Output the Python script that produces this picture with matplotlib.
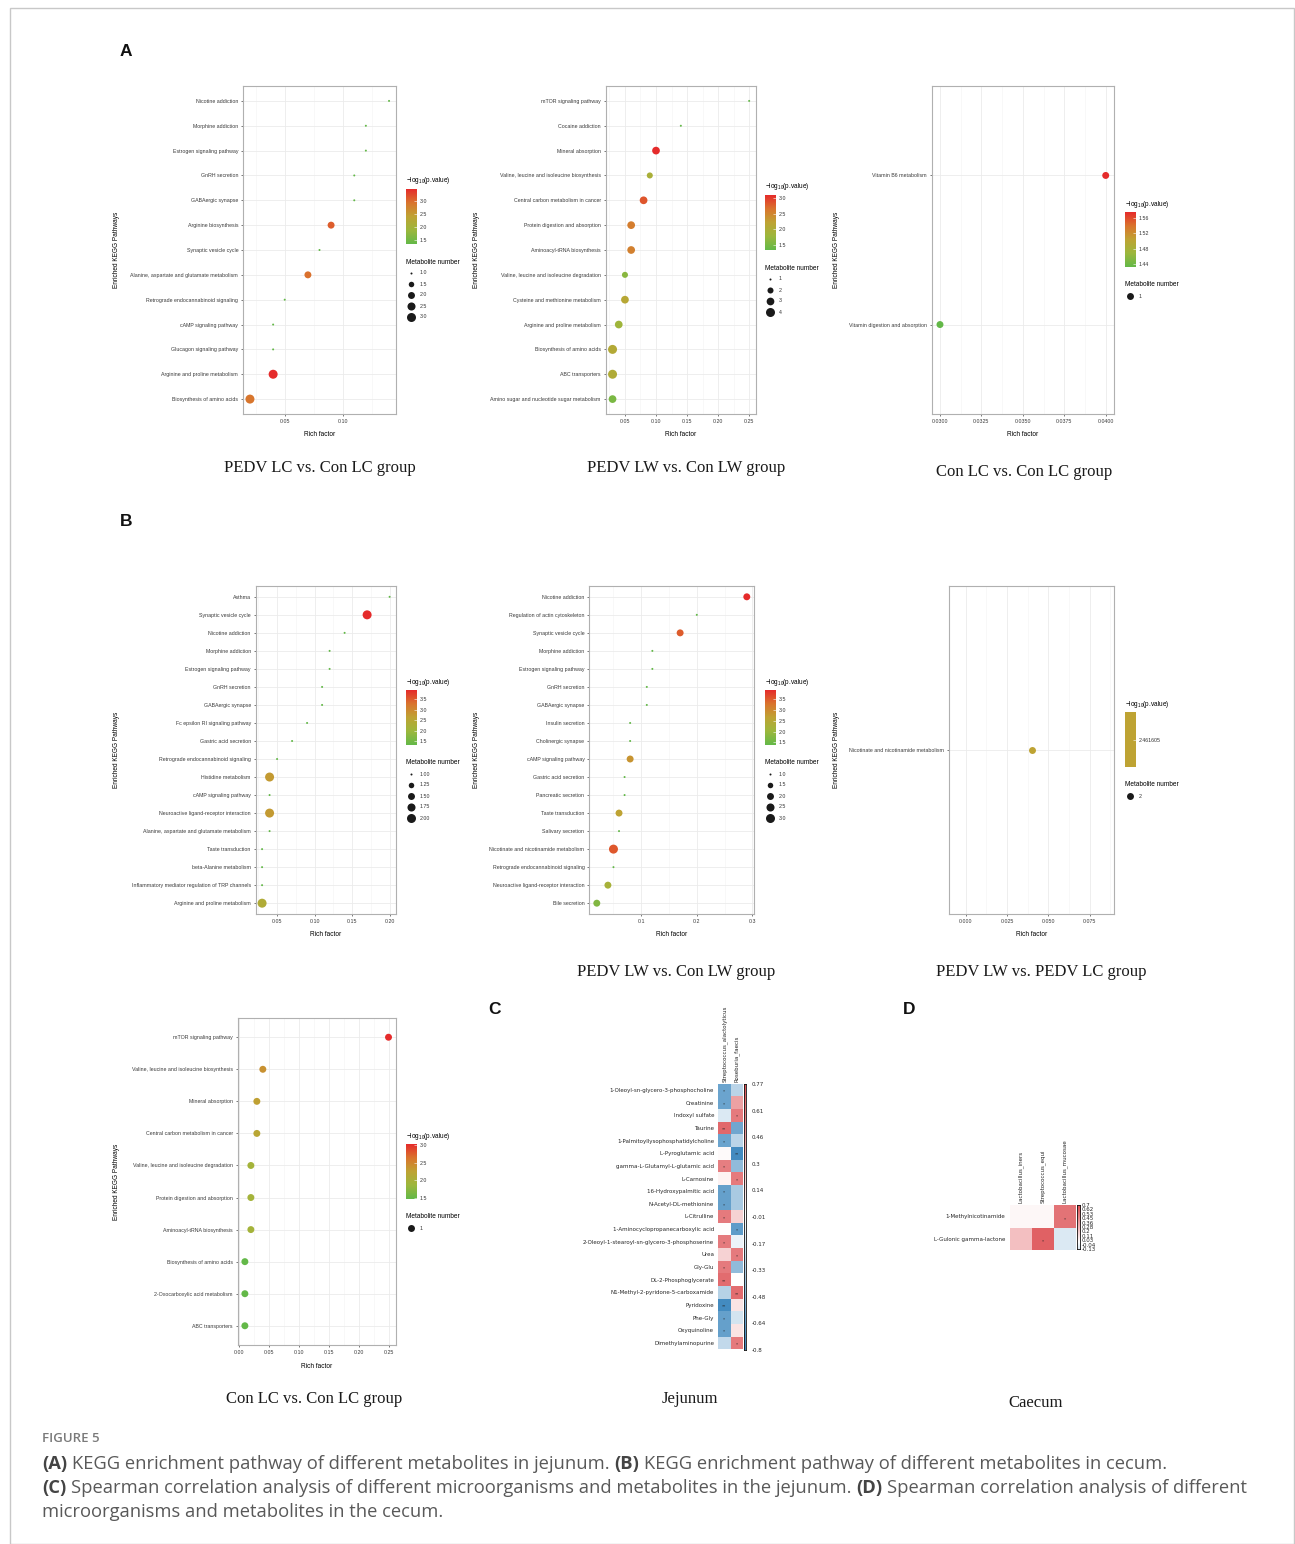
import numpy as np
import matplotlib
matplotlib.use('Agg')
import matplotlib.pyplot as plt
from matplotlib.colors import LinearSegmentedColormap, ListedColormap, Normalize
from matplotlib.cm import ScalarMappable
from matplotlib.ticker import MultipleLocator
from matplotlib.patches import Rectangle

plt.rcParams['font.family'] = ['Liberation Sans', 'DejaVu Sans']
plt.rcParams['mathtext.fontset'] = 'custom'
plt.rcParams['mathtext.rm'] = 'Liberation Sans'
plt.rcParams['mathtext.it'] = 'Liberation Sans:italic'

# ---- A: jejunum KEGG enrichment ----
a1_terms = ['Nicotine addiction', 'Morphine addiction', 'Estrogen signaling pathway', 'GnRH secretion',
            'GABAergic synapse', 'Arginine biosynthesis', 'Synaptic vesicle cycle',
            'Alanine, aspartate and glutamate metabolism', 'Retrograde endocannabinoid signaling',
            'cAMP signaling pathway', 'Glucagon signaling pathway', 'Arginine and proline metabolism',
            'Biosynthesis of amino acids']
a1_rich = [0.14, 0.12, 0.12, 0.11, 0.11, 0.09, 0.08, 0.07, 0.05, 0.04, 0.04, 0.04, 0.02]
a1_logp = [1.33, 1.33, 1.33, 1.33, 1.33, 3.11, 1.33, 2.96, 1.33, 1.33, 1.33, 3.48, 2.92]
a1_count = [1, 1, 1, 1, 1, 2, 1, 2, 1, 1, 1, 3, 3]

a2_terms = ['mTOR signaling pathway', 'Cocaine addiction', 'Mineral absorption',
            'Valine, leucine and isoleucine biosynthesis', 'Central carbon metabolism in cancer',
            'Protein digestion and absorption', 'Aminoacyl-tRNA biosynthesis',
            'Valine, leucine and isoleucine degradation', 'Cysteine and methionine metabolism',
            'Arginine and proline metabolism', 'Biosynthesis of amino acids', 'ABC transporters',
            'Amino sugar and nucleotide sugar metabolism']
a2_rich = [0.25, 0.14, 0.10, 0.09, 0.08, 0.06, 0.06, 0.05, 0.05, 0.04, 0.03, 0.03, 0.03]
a2_logp = [1.34, 1.34, 3.11, 1.96, 2.85, 2.58, 2.55, 1.64, 2.14, 1.82, 2.08, 2.05, 1.52]
a2_count = [1, 1, 3, 2, 3, 3, 3, 2, 3, 3, 4, 4, 3]

a3_terms = ['Vitamin B6 metabolism', 'Vitamin digestion and absorption']
a3_rich = [0.04, 0.03]
a3_logp = [1.575, 1.432]
a3_count = [1, 1]

# ---- B: cecum KEGG enrichment ----
b1_terms = ['Asthma', 'Synaptic vesicle cycle', 'Nicotine addiction', 'Morphine addiction',
            'Estrogen signaling pathway', 'GnRH secretion', 'GABAergic synapse',
            'Fc epsilon RI signaling pathway', 'Gastric acid secretion',
            'Retrograde endocannabinoid signaling', 'Histidine metabolism', 'cAMP signaling pathway',
            'Neuroactive ligand-receptor interaction', 'Alanine, aspartate and glutamate metabolism',
            'Taste transduction', 'beta-Alanine metabolism',
            'Inflammatory mediator regulation of TRP channels', 'Arginine and proline metabolism']
b1_rich = [0.20, 0.17, 0.14, 0.12, 0.12, 0.11, 0.11, 0.09, 0.07, 0.05, 0.04, 0.04, 0.04, 0.04,
           0.03, 0.03, 0.03, 0.03]
b1_logp = [1.33, 3.93, 1.33, 1.33, 1.33, 1.33, 1.33, 1.33, 1.33, 1.33, 2.76, 1.33, 2.76, 1.33,
           1.33, 1.33, 1.33, 2.37]
b1_count = [1, 2, 1, 1, 1, 1, 1, 1, 1, 1, 2, 1, 2, 1, 1, 1, 1, 2]

b2_terms = ['Nicotine addiction', 'Regulation of actin cytoskeleton', 'Synaptic vesicle cycle',
            'Morphine addiction', 'Estrogen signaling pathway', 'GnRH secretion', 'GABAergic synapse',
            'Insulin secretion', 'Cholinergic synapse', 'cAMP signaling pathway',
            'Gastric acid secretion', 'Pancreatic secretion', 'Taste transduction',
            'Salivary secretion', 'Nicotinate and nicotinamide metabolism',
            'Retrograde endocannabinoid signaling', 'Neuroactive ligand-receptor interaction',
            'Bile secretion']
b2_rich = [0.29, 0.20, 0.17, 0.12, 0.12, 0.11, 0.11, 0.08, 0.08, 0.08, 0.07, 0.07, 0.06, 0.06,
           0.05, 0.05, 0.04, 0.02]
b2_logp = [3.92, 1.38, 3.49, 1.38, 1.38, 1.38, 1.38, 1.38, 1.38, 2.85, 1.38, 1.38, 2.65, 1.38,
           3.54, 1.38, 2.22, 1.71]
b2_count = [2, 1, 2, 1, 1, 1, 1, 1, 1, 2, 1, 1, 2, 1, 3, 1, 2, 2]

b3_terms = ['Nicotinate and nicotinamide metabolism']
b3_rich = [0.04]
b3_logp = [2.461605]
b3_count = [2]

b4_terms = ['mTOR signaling pathway', 'Valine, leucine and isoleucine biosynthesis',
            'Mineral absorption', 'Central carbon metabolism in cancer',
            'Valine, leucine and isoleucine degradation', 'Protein digestion and absorption',
            'Aminoacyl-tRNA biosynthesis', 'Biosynthesis of amino acids',
            '2-Oxocarboxylic acid metabolism', 'ABC transporters']
b4_rich = [0.25, 0.04, 0.03, 0.03, 0.02, 0.02, 0.02, 0.01, 0.01, 0.01]
b4_logp = [3.02, 2.40, 2.27, 2.20, 1.95, 1.95, 1.95, 1.48, 1.48, 1.48]
b4_count = [1, 1, 1, 1, 1, 1, 1, 1, 1, 1]

# ---- C: jejunum Spearman ----
c_taxa = ['Streptococcus_alactolyticus', 'Roseburia_faecis']
c_metab = ['1-Oleoyl-sn-glycero-3-phosphocholine', 'Creatinine', 'Indoxyl sulfate', 'Taurine',
           '1-Palmitoyllysophosphatidylcholine', 'L-Pyroglutamic acid',
           'gamma-L-Glutamyl-L-glutamic acid', 'L-Carnosine', '16-Hydroxypalmitic acid',
           'N-Acetyl-DL-methionine', 'L-Citrulline', '1-Aminocyclopropanecarboxylic acid',
           '2-Oleoyl-1-stearoyl-sn-glycero-3-phosphoserine', 'Urea', 'Gly-Glu',
           'DL-2-Phosphoglycerate', 'N1-Methyl-2-pyridone-5-carboxamide', 'Pyridoxine', 'Phe-Gly',
           'Oxyquinoline', 'Dimethylaminopurine']
c_r1 = [-0.60, -0.60, -0.15, 0.68, -0.60, 0.02, 0.58, 0.05, -0.62, -0.62, 0.60, 0.01, 0.60,
        0.20, 0.60, 0.66, -0.30, -0.76, -0.62, -0.62, -0.25]
c_r2 = [-0.28, 0.42, 0.60, -0.58, -0.28, -0.76, -0.45, 0.60, -0.35, -0.35, 0.20, -0.65, -0.08,
        0.60, -0.45, 0.00, 0.66, 0.12, -0.18, 0.12, 0.60]
c_sig1 = ['*', '*', '', '**', '*', '', '*', '', '*', '*', '*', '', '*', '', '*', '**', '', '**',
          '*', '*', '']
c_sig2 = ['', '', '*', '', '', '**', '', '*', '', '', '', '*', '', '*', '', '', '**', '', '',
          '', '*']
c_cbar_labels = ['0.77', '0.61', '0.46', '0.3', '0.14', '-0.01', '-0.17', '-0.33', '-0.48',
                 '-0.64', '-0.8']

# ---- D: caecum Spearman ----
d_taxa = ['Lactobacillus_iners', 'Streptococcus_equi', 'Lactobacillus_mucosae']
d_metab = ['1-Methylnicotinamide', 'L-Gulonic gamma-lactone']
d_r1 = [0.03, 0.03, 0.55]
d_r2 = [0.25, 0.62, -0.13]
d_sig1 = ['', '', '*']
d_sig2 = ['', '*', '']
d_cbar_labels = ['0.7', '0.62', '0.53', '0.45', '0.36', '0.28', '0.2', '0.11', '0.03', '-0.04',
                 '-0.13']

W, H = 1295, 1544
kegg_cmap = LinearSegmentedColormap.from_list(
    'kegg', ['#63b848', '#9cb73c', '#bea333', '#d9742d', '#e52b2b'])
hm_cmap = LinearSegmentedColormap.from_list('hm', ['#3a85bd', '#ffffff', '#dc4d51'])


def box(x0, y0, x1, y1):
    return [x0 / W, 1 - y1 / H, (x1 - x0) / W, (y1 - y0) / H]


fig = plt.figure(figsize=(W / 100, H / 100), dpi=100)
ov = fig.add_axes([0, 0, 1, 1])
ov.set_xlim(0, W)
ov.set_ylim(H, 0)
ov.set_autoscale_on(False)
ov.axis('off')
ov.add_patch(Rectangle((9.5, 7.5), 1284, 1536, fill=False, ec='#c8c8c8', lw=1))


def bubble(axbox, terms, rich, logp, count, xlim, xticks, xlabels, cticks, clabels,
           lvls, lvl_labels, leg, ylab_x):
    x0, y0, x1, y1 = axbox
    ax = fig.add_axes(box(x0, y0, x1, y1))
    n = len(terms)
    ypos = np.arange(n, 0, -1)
    lo, hi = min(logp), max(logp)
    if hi > lo:
        cmap, norm = kegg_cmap, Normalize(lo, hi)
    else:
        cmap, norm = ListedColormap([kegg_cmap(0.5)]), Normalize(lo - 1, hi + 1)
    cmin, cmax = min(count), max(count)

    def diam(c):
        t = 0.5 if cmax == cmin else (c - cmin) / (cmax - cmin)
        return 2.0 + 7.0 * np.sqrt(t)

    ax.scatter(rich, ypos, s=[(diam(c) * 0.72) ** 2 for c in count], c=logp, cmap=cmap,
               norm=norm, linewidths=0, zorder=3)
    ax.set_ylim(0.4, n + 0.6)
    ax.set_yticks(ypos)
    ax.set_yticklabels(terms)
    ax.set_xlim(*xlim)
    ax.set_xticks(xticks)
    ax.set_xticklabels(xlabels)
    ax.xaxis.set_minor_locator(MultipleLocator((xticks[1] - xticks[0]) / 2))
    ax.grid(which='major', color='#ebebeb', lw=0.6)
    ax.grid(which='minor', axis='x', color='#f3f3f3', lw=0.4)
    ax.set_axisbelow(True)
    for s in ax.spines.values():
        s.set_color('#b0b0b0')
        s.set_linewidth(0.8)
    ax.tick_params(labelsize=3.8, length=1.5, width=0.5, pad=2, color='#444444',
                   labelcolor='#3a3a3a')
    ax.tick_params(which='minor', length=0)

    lx, ty = leg
    cax = fig.add_axes(box(lx, ty + 8, lx + 11, ty + 63))
    cb = fig.colorbar(ScalarMappable(norm=norm, cmap=cmap), cax=cax, ticks=cticks)
    cb.set_ticklabels(clabels)
    cb.outline.set_visible(False)
    cax.tick_params(labelsize=3.8, length=2, width=0.4, color='white', direction='in', pad=2,
                    labelcolor='#333333')
    ov.text(lx, ty, '\u2212log$_{10}$(p.value)', fontsize=4.7, va='center', ha='left')
    my = ty + 81
    ov.text(lx, my, 'Metabolite number', fontsize=4.7, va='center', ha='left')
    for k, (lv, lb) in enumerate(zip(lvls, lvl_labels)):
        yy = my + 11 * (k + 1)
        ov.scatter([lx + 5], [yy], s=(diam(lv) * 0.72) ** 2, color='#1a1a1a', linewidths=0)
        ov.text(lx + 14, yy, lb, fontsize=3.8, va='center', ha='left', color='#333333')
    ov.text((x0 + x1) / 2, y1 + 21, 'Rich factor', fontsize=4.7, ha='center', va='center')
    ov.text(ylab_x, (y0 + y1) / 2, 'Enriched KEGG Pathways', fontsize=4.7, rotation=90,
            ha='center', va='center')


c15 = [1.5, 2.0, 2.5, 3.0]
c15l = ['1.5', '2.0', '2.5', '3.0']
c35 = [1.5, 2.0, 2.5, 3.0, 3.5]
c35l = ['1.5', '2.0', '2.5', '3.0', '3.5']

bubble((243, 86, 396, 414), a1_terms, a1_rich, a1_logp, a1_count, (0.014, 0.146),
       [0.05, 0.10], ['0.05', '0.10'], c15, c15l,
       [1, 1.5, 2, 2.5, 3], ['1.0', '1.5', '2.0', '2.5', '3.0'], (406, 181), 117)
bubble((605.7, 86, 756, 414), a2_terms, a2_rich, a2_logp, a2_count, (0.019, 0.261),
       [0.05, 0.10, 0.15, 0.20, 0.25], ['0.05', '0.10', '0.15', '0.20', '0.25'], c15, c15l,
       [1, 2, 3, 4], ['1', '2', '3', '4'], (765, 187), 477)
bubble((931.7, 86, 1114, 414), a3_terms, a3_rich, a3_logp, a3_count, (0.0295, 0.0405),
       [0.03, 0.0325, 0.035, 0.0375, 0.04], ['0.0300', '0.0325', '0.0350', '0.0375', '0.0400'],
       [1.44, 1.48, 1.52, 1.56], ['1.44', '1.48', '1.52', '1.56'],
       [1], ['1'], (1125, 204), 836)
bubble((255.7, 586, 396, 914), b1_terms, b1_rich, b1_logp, b1_count, (0.0215, 0.2085),
       [0.05, 0.10, 0.15, 0.20], ['0.05', '0.10', '0.15', '0.20'], c35, c35l,
       [1, 1.25, 1.5, 1.75, 2], ['1.00', '1.25', '1.50', '1.75', '2.00'], (406, 682), 117)
bubble((589.3, 586, 754.3, 914), b2_terms, b2_rich, b2_logp, b2_count, (0.0065, 0.3035),
       [0.1, 0.2, 0.3], ['0.1', '0.2', '0.3'], c35, c35l,
       [1, 1.5, 2, 2.5, 3], ['1.0', '1.5', '2.0', '2.5', '3.0'], (765, 682), 477)
bubble((949.3, 586, 1114.3, 914), b3_terms, b3_rich, b3_logp, b3_count, (-0.01, 0.09),
       [0.0, 0.025, 0.05, 0.075], ['0.000', '0.025', '0.050', '0.075'],
       [2.461605], ['2.461605'], [2], ['2'], (1125, 704), 836)
bubble((237.7, 1018, 395.7, 1345), b4_terms, b4_rich, b4_logp, b4_count, (-0.002, 0.262),
       [0.0, 0.05, 0.10, 0.15, 0.20, 0.25], ['0.00', '0.05', '0.10', '0.15', '0.20', '0.25'],
       c15, c15l, [1], ['1'], (406, 1136), 117)


def heat(axbox, cbox, taxa, metab, rows, sigs, vabs, cbar_labels, cpad):
    mat = np.array(rows)
    norm = Normalize(-vabs, vabs)
    ax = fig.add_axes(box(*axbox))
    ax.pcolormesh(mat, cmap=hm_cmap, norm=norm)
    nr, nc = mat.shape
    ax.set_xlim(0, nc)
    ax.set_ylim(nr, 0)
    ax.xaxis.tick_top()
    ax.set_xticks(np.arange(nc) + 0.5)
    ax.set_xticklabels(taxa, rotation=90, family='DejaVu Sans', fontsize=4, color='#262626')
    ax.set_yticks(np.arange(nr) + 0.5)
    ax.set_yticklabels(metab, family='DejaVu Sans', fontsize=4, color='#262626')
    ax.tick_params(axis='x', length=0, pad=1.5)
    ax.tick_params(axis='y', length=0, pad=3)
    for s in ax.spines.values():
        s.set_visible(False)
    for i in range(nr):
        for j in range(nc):
            if sigs[i][j]:
                ax.text(j + 0.5, i + 0.62, sigs[i][j], ha='center', va='center', fontsize=3,
                        color='#222222', family='DejaVu Sans')
    vals = [float(v) for v in cbar_labels]
    hi, lo = vals[0], vals[-1]
    cax = fig.add_axes(box(*cbox))
    grad = np.linspace(lo, hi, 100)[:, None]
    cax.imshow(grad, aspect='auto', cmap=hm_cmap, norm=norm, origin='lower',
               extent=(0, 1, lo, hi))
    cax.set_xticks([])
    cax.yaxis.tick_right()
    cax.set_yticks(np.linspace(hi, lo, len(cbar_labels)))
    cax.set_yticklabels(cbar_labels, family='DejaVu Sans', fontsize=4, color='#262626')
    cax.tick_params(axis='y', length=0, pad=cpad)
    for s in cax.spines.values():
        s.set_color('#111111')
        s.set_linewidth(0.6)


c_rows = [[a, b] for a, b in zip(c_r1, c_r2)]
c_sigs = [[a, b] for a, b in zip(c_sig1, c_sig2)]
heat((718.3, 1083.7, 742.7, 1349.3), (744, 1084, 745.5, 1350), c_taxa, c_metab, c_rows, c_sigs,
     0.8, c_cbar_labels, 4.5)
heat((1009.7, 1205.3, 1076, 1250), (1076.5, 1205, 1080, 1249), d_taxa, d_metab, [d_r1, d_r2],
     [d_sig1, d_sig2], 0.7, d_cbar_labels, 1.2)

# panel letters and group captions
for lab, x, y in [('A', 120, 52), ('B', 120, 521), ('C', 488, 1010), ('D', 903, 1010)]:
    ov.text(x, y, lab, fontsize=12.5, weight='bold', ha='left', va='center', color='#111111')

serif = ['Liberation Serif', 'DejaVu Serif']
for s, x, y in [('PEDV LC vs. Con LC group', 320, 468), ('PEDV LW vs. Con LW group', 686, 468),
                ('Con LC vs. Con LC group', 1024, 472), ('PEDV LW vs. Con LW group', 676, 972),
                ('PEDV LW vs. PEDV LC group', 1041, 972), ('Con LC vs. Con LC group', 314, 1399),
                ('Jejunum', 690, 1399), ('Caecum', 1036, 1403)]:
    ov.text(x, y, s, fontsize=12, family=serif, ha='center', va='center', color='#1a1a1a')

# figure caption
capfont = ['Open Sans', 'DejaVu Sans']
renderer = fig.canvas.get_renderer()


def width(s, size, weight='normal'):
    t = ov.text(0, 0, s, fontsize=size, family=capfont, weight=weight)
    w = t.get_window_extent(renderer).width
    t.remove()
    return w


line1 = [('(A)', True), ('KEGG enrichment pathway of different metabolites in jejunum.', False),
         ('(B)', True), ('KEGG enrichment pathway of different metabolites in cecum.', False)]
line2 = [('(C)', True), ('Spearman correlation analysis of different microorganisms and '
                         'metabolites in the jejunum.', False),
         ('(D)', True), ('Spearman correlation analysis of different', False)]
line3 = [('microorganisms and metabolites in the cecum.', False)]

full1 = ' '.join(s for s, _ in line1)
capsize = 12 * 1119 / width(full1, 12)
space = width('a a', capsize) - width('aa', capsize)


def rich_line(x, y, runs):
    for s, b in runs:
        t = ov.text(x, y, s, fontsize=capsize, family=capfont,
                    weight='bold' if b else 'normal', color='#444444' if b else '#595959',
                    ha='left', va='center')
        x += t.get_window_extent(renderer).width + space


ov.text(42, 1439, 'FIGURE 5', fontsize=9.5, family=capfont, weight='semibold', color='#7a7a7a',
        ha='left', va='center')
rich_line(42, 1464, line1)
rich_line(42, 1488, line2)
rich_line(42, 1512, line3)

fig.savefig('out.png', dpi=100)
